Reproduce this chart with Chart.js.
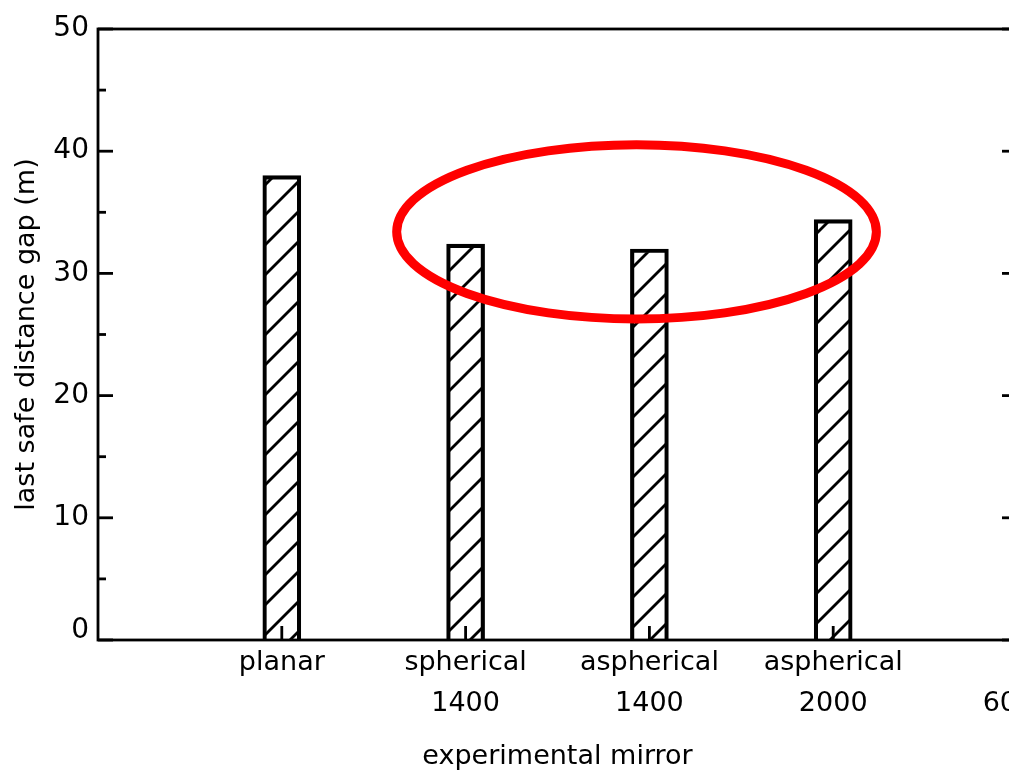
<!DOCTYPE html>
<html><head><meta charset="utf-8">
<script src="https://cdn.jsdelivr.net/npm/chart.js@4/dist/chart.umd.min.js"></script>
<style>
html,body{margin:0;padding:0;overflow:hidden;background:#fff;}
#wrap{width:1060px;height:778px;}
</style></head><body>
<div id="wrap"><canvas id="c" width="1060" height="778"></canvas></div>
<script>
// ---- data ----
const categories = [[''], ['planar'], ['spherical', '1400'], ['aspherical', '1400'], ['aspherical', '2000'], ['', '6000']];
const gapValues = [null, 38.0, 32.4, 32.0, 34.4, null];
const yMajorTicks = [0, 10, 20, 30, 40, 50];
const yMinorTicks = [5, 15, 25, 35, 45];
const xTitle = 'experimental mirror';
const yTitle = 'last safe distance gap (m)';
// highlight ellipse, in data units (category index, metres)
const highlightCenter = [2.93, 33.4];
const highlightRadii = [1.305, 7.13];

const FONT = 'DejaVu Sans';

function hatchPattern() {
  const s = 30;
  const c = document.createElement('canvas');
  c.width = s; c.height = s;
  const g = c.getContext('2d');
  g.strokeStyle = '#000';
  g.lineWidth = 2.8;
  g.lineCap = 'square';
  for (let k = -1; k <= 1; k++) {
    g.beginPath();
    g.moveTo(k * s, s);
    g.lineTo(k * s + s, 0);
    g.stroke();
  }
  return document.getElementById('c').getContext('2d').createPattern(c, 'repeat');
}

const framePlugin = {
  id: 'frame',
  afterDatasetsDraw(chart) {
    const {ctx, chartArea: {left, right, top, bottom}, scales: {x, y}} = chart;
    ctx.save();
    ctx.strokeStyle = '#000';
    ctx.lineWidth = 2.8;
    ctx.lineCap = 'butt';
    ctx.strokeRect(left, top, right - left, bottom - top);
    const seg = (x1, y1, x2, y2) => { ctx.beginPath(); ctx.moveTo(x1, y1); ctx.lineTo(x2, y2); ctx.stroke(); };
    yMajorTicks.forEach(v => { const p = y.getPixelForValue(v); seg(left, p, left + 15, p); seg(right, p, right - 15, p); });
    yMinorTicks.forEach(v => { const p = y.getPixelForValue(v); seg(left, p, left + 8, p); seg(right, p, right - 8, p); });
    categories.forEach((c, i) => {
      if (i === 0 || i === categories.length - 1) return;
      const p = x.getPixelForValue(i);
      seg(p, bottom, p, bottom - 14);
    });
    ctx.restore();
  },
  afterDraw(chart) {
    const {ctx, scales: {x, y}} = chart;
    const cx = x.getPixelForValue(highlightCenter[0]);
    const cy = y.getPixelForValue(highlightCenter[1]);
    const rx = highlightRadii[0] * Math.abs(x.getPixelForValue(1) - x.getPixelForValue(0));
    const ry = highlightRadii[1] * Math.abs(y.getPixelForValue(0) - y.getPixelForValue(1));
    ctx.save();
    ctx.strokeStyle = '#ff0000';
    ctx.lineWidth = 9;
    ctx.beginPath();
    ctx.ellipse(cx, cy, rx, ry, 0, 0, Math.PI * 2);
    ctx.stroke();
    ctx.restore();
  }
};

new Chart(document.getElementById('c'), {
  type: 'bar',
  data: {
    labels: categories,
    datasets: [{
      data: gapValues,
      backgroundColor: hatchPattern(),
      borderColor: '#000',
      borderWidth: 3.5,
      barThickness: 38
    }]
  },
  options: {
    responsive: false,
    animation: false,
    devicePixelRatio: 1,
    layout: {padding: {top: 29, right: 43, bottom: 0, left: 0}},
    plugins: {legend: {display: false}, tooltip: {enabled: false}},
    scales: {
      x: {
        type: 'category',
        offset: false,
        grid: {display: false, drawTicks: false, tickLength: 0, offset: false},
        border: {display: false},
        ticks: {
          autoSkip: false, maxRotation: 0, minRotation: 0,
          padding: 3, color: '#000',
          font: {family: FONT, size: 27, lineHeight: 1.5}
        },
        title: {display: true, text: xTitle, color: '#000',
          font: {family: FONT, size: 27, lineHeight: 1.2}, padding: {top: 0, bottom: 4.4}},
        afterFit(s) { s.height = 138; }
      },
      y: {
        min: 0, max: 50,
        grid: {display: false, drawTicks: false, tickLength: 0},
        border: {display: false},
        ticks: {
          stepSize: 5, autoSkip: false, padding: 9, color: '#000',
          font: {family: FONT, size: 28, lineHeight: 0.67},
          callback: v => (v % 10 !== 0 ? '' : (v === 0 ? ['0', ''] : String(v)))
        },
        title: {display: true, text: yTitle, color: '#000',
          font: {family: FONT, size: 27, lineHeight: 1.2}, padding: {top: 11, bottom: 0}},
        afterFit(s) { s.width = 98; }
      }
    }
  },
  plugins: [framePlugin]
});
</script>
</body></html>
